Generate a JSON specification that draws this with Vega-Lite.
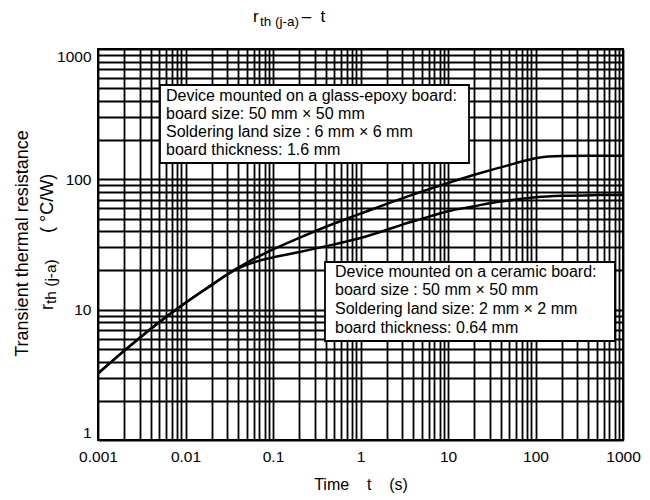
{
  "$schema": "https://vega.github.io/schema/vega-lite/v6.json",
  "width": 525,
  "height": 391,
  "autosize": {"type": "none"},
  "padding": {"left": 98, "top": 49, "right": 27, "bottom": 60},
  "background": "white",
  "config": {
    "font": "Liberation Sans",
    "view": {"stroke": "black", "strokeWidth": 2}
  },
  "encoding": {
    "x": {
      "field": "t",
      "type": "quantitative",
      "scale": {"type": "log", "domain": [0.001, 1000], "nice": false},
      "axis": {
        "values": [0.001,0.002,0.003,0.004,0.005,0.006,0.007,0.008,0.009,0.01,0.02,0.03,0.04,0.05,0.06,0.07,0.08,0.09,0.1,0.2,0.3,0.4,0.5,0.6,0.7,0.8,0.9,1,2,3,4,5,6,7,8,9,10,20,30,40,50,60,70,80,90,100,200,300,400,500,600,700,800,900,1000],
        "format": "~g",
        "labelExpr": "indexof(['0.001','0.01','0.1','1','10','100','1000'], datum.label) >= 0 ? datum.label : ''",
        "grid": true,
        "gridColor": "#000000",
        "gridWidth": 1.8,
        "gridOpacity": 1,
        "ticks": false,
        "tickSize": 0,
        "domain": false,
        "labelFontSize": 15.5,
        "labelColor": "#000000",
        "labelPadding": 9,
        "labelFlush": false,
        "labelOverlap": false,
        "labelBound": false,
        "title": "Time\u00a0\u00a0\u00a0\u00a0t\u00a0\u00a0\u00a0\u00a0(s)",
        "titleFontSize": 16,
        "titleFontWeight": "normal",
        "titleColor": "#000000",
        "titlePadding": 12
      }
    },
    "y": {
      "field": "r",
      "type": "quantitative",
      "scale": {"type": "log", "domain": [1, 1000], "nice": false},
      "axis": {
        "values": [1,2,3,4,5,6,7,8,9,10,20,30,40,50,60,70,80,90,100,200,300,400,500,600,700,800,900,1000],
        "format": "~g",
        "labelExpr": "indexof(['1','10','100','1000'], datum.label) >= 0 ? datum.label : ''",
        "grid": true,
        "gridColor": "#000000",
        "gridWidth": 1.8,
        "gridOpacity": 1,
        "ticks": false,
        "tickSize": 0,
        "domain": false,
        "labelFontSize": 15.5,
        "labelColor": "#000000",
        "labelPadding": 7,
        "labelFlush": true,
        "labelOverlap": false,
        "labelBound": false,
        "title": "Transient thermal resistance",
        "titleFontSize": 18,
        "titleFontWeight": "normal",
        "titleColor": "#000000",
        "titleX": -71,
        "titleY": 194,
        "titleAngle": 270,
        "titleAlign": "center",
        "titleBaseline": "alphabetic"
      }
    }
  },
  "layer": [
    {
      "data": {"values": [
        {"box": "glass-epoxy", "t": 0.005112, "t2": 17.38, "r": 529.5, "r2": 133.5},
        {"box": "ceramic", "t": 0.3926, "t2": 810, "r": 23.21, "r2": 5.748}
      ]},
      "mark": {"type": "rect", "fill": "white", "stroke": "black", "strokeWidth": 1.8},
      "encoding": {"x2": {"field": "t2"}, "y2": {"field": "r2"}}
    },
    {
      "data": {"values": [
        {"series": "glass-epoxy", "t": 0.001, "r": 3.24},
        {"series": "glass-epoxy", "t": 0.002, "r": 4.85},
        {"series": "glass-epoxy", "t": 0.005, "r": 8.02},
        {"series": "glass-epoxy", "t": 0.01, "r": 11.3},
        {"series": "glass-epoxy", "t": 0.02, "r": 15.5},
        {"series": "glass-epoxy", "t": 0.03, "r": 18.6},
        {"series": "glass-epoxy", "t": 0.04, "r": 21.0},
        {"series": "glass-epoxy", "t": 0.05, "r": 22.9},
        {"series": "glass-epoxy", "t": 0.1, "r": 29.0},
        {"series": "glass-epoxy", "t": 0.2, "r": 35.6},
        {"series": "glass-epoxy", "t": 0.5, "r": 45.8},
        {"series": "glass-epoxy", "t": 1, "r": 54.5},
        {"series": "glass-epoxy", "t": 2, "r": 64.8},
        {"series": "glass-epoxy", "t": 5, "r": 80.4},
        {"series": "glass-epoxy", "t": 10, "r": 93.7},
        {"series": "glass-epoxy", "t": 20, "r": 108.3},
        {"series": "glass-epoxy", "t": 30, "r": 117.2},
        {"series": "glass-epoxy", "t": 50, "r": 128.5},
        {"series": "glass-epoxy", "t": 70, "r": 137},
        {"series": "glass-epoxy", "t": 100, "r": 145},
        {"series": "glass-epoxy", "t": 140, "r": 149.5},
        {"series": "glass-epoxy", "t": 200, "r": 151.3},
        {"series": "glass-epoxy", "t": 400, "r": 151.9},
        {"series": "glass-epoxy", "t": 1000, "r": 152},
        {"series": "ceramic", "t": 0.001, "r": 3.24},
        {"series": "ceramic", "t": 0.002, "r": 4.85},
        {"series": "ceramic", "t": 0.005, "r": 8.02},
        {"series": "ceramic", "t": 0.01, "r": 11.3},
        {"series": "ceramic", "t": 0.02, "r": 15.5},
        {"series": "ceramic", "t": 0.03, "r": 18.6},
        {"series": "ceramic", "t": 0.04, "r": 20.7},
        {"series": "ceramic", "t": 0.05, "r": 22.1},
        {"series": "ceramic", "t": 0.07, "r": 23.8},
        {"series": "ceramic", "t": 0.1, "r": 25.2},
        {"series": "ceramic", "t": 0.15, "r": 26.6},
        {"series": "ceramic", "t": 0.2, "r": 27.7},
        {"series": "ceramic", "t": 0.5, "r": 31.7},
        {"series": "ceramic", "t": 1, "r": 35.5},
        {"series": "ceramic", "t": 2, "r": 41.0},
        {"series": "ceramic", "t": 3, "r": 44.9},
        {"series": "ceramic", "t": 5, "r": 49.7},
        {"series": "ceramic", "t": 10, "r": 56.9},
        {"series": "ceramic", "t": 20, "r": 62.2},
        {"series": "ceramic", "t": 30, "r": 65.6},
        {"series": "ceramic", "t": 50, "r": 68.9},
        {"series": "ceramic", "t": 100, "r": 72.8},
        {"series": "ceramic", "t": 200, "r": 74.8},
        {"series": "ceramic", "t": 500, "r": 75.7},
        {"series": "ceramic", "t": 1000, "r": 75.9}
      ]},
      "mark": {"type": "line", "color": "black", "strokeWidth": 2.5, "interpolate": "monotone"},
      "encoding": {"detail": {"field": "series", "type": "nominal"}}
    },
    {
      "data": {"values": [
        {"t": 0.005984, "r": 402.5, "text": "Device mounted on a glass-epoxy board:"},
        {"t": 0.005984, "r": 291.3, "text": "board size: 50 mm × 50 mm"},
        {"t": 0.005984, "r": 211.3, "text": "Soldering land size : 6 mm × 6 mm"},
        {"t": 0.005984, "r": 152.9, "text": "board thickness: 1.6 mm"},
        {"t": 0.5117, "r": 17.9, "text": "Device mounted on a ceramic board:"},
        {"t": 0.5117, "r": 12.96, "text": "board size : 50 mm × 50 mm"},
        {"t": 0.5117, "r": 9.213, "text": "Soldering land size: 2 mm × 2 mm"},
        {"t": 0.5117, "r": 6.657, "text": "board thickness: 0.64 mm"}
      ]},
      "mark": {"type": "text", "align": "left", "baseline": "alphabetic", "fontSize": 16, "color": "black"},
      "encoding": {"text": {"field": "text"}}
    },
    {
      "data": {"values": [
        {"t": 0.059, "r": 1620, "text": "r"},
        {"t": 0.2128, "r": 1620, "text": "–\u00a0\u00a0t"}
      ]},
      "mark": {"type": "text", "align": "left", "baseline": "alphabetic", "fontSize": 17, "color": "black"},
      "encoding": {"text": {"field": "text"}}
    },
    {
      "data": {"values": [
        {"t": 0.071, "r": 1514, "text": "th (j-a)"}
      ]},
      "mark": {"type": "text", "align": "left", "baseline": "alphabetic", "fontSize": 13.5, "color": "black"},
      "encoding": {"text": {"field": "text"}}
    },
    {
      "data": {"values": [
        {"t": 0.0003084, "r": 9.94, "text": "r"},
        {"t": 0.0003084, "r": 38.74, "text": "(\u00a0°C/W)"}
      ]},
      "mark": {"type": "text", "align": "left", "baseline": "alphabetic", "fontSize": 18, "angle": 270, "color": "black"},
      "encoding": {"text": {"field": "text"}}
    },
    {
      "data": {"values": [
        {"t": 0.0003355, "r": 11.05, "text": "th (j-a)"}
      ]},
      "mark": {"type": "text", "align": "left", "baseline": "alphabetic", "fontSize": 15.5, "angle": 270, "color": "black"},
      "encoding": {"text": {"field": "text"}}
    }
  ]
}
